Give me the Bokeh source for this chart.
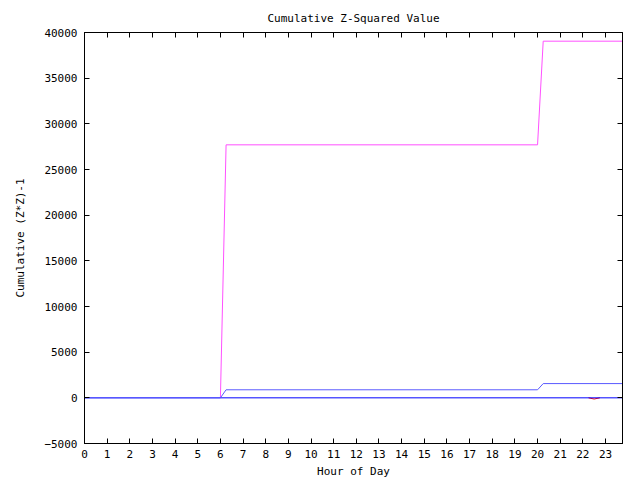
from bokeh.plotting import figure
from bokeh.models import LinearAxis, FixedTicker, Range1d
from bokeh.embed import file_html
from bokeh.resources import INLINE

# Data (hour of day, cumulative value)
magenta_hours = [6.0, 6.25, 20.0, 20.25, 23.75]
magenta_vals = [0, 27700, 27700, 39050, 39050]

lightblue_hours = [0, 6.0, 6.25, 20.0, 20.25, 23.75]
lightblue_vals = [0, 0, 880, 880, 1560, 1560]

blue_hours = [0, 23.75]
blue_vals = [0, 0]

red_hours = [22.25, 22.5, 22.75]
red_vals = [0, -130, 0]

x_ticks = list(range(24))
y_ticks = list(range(-5000, 40001, 5000))

FONT = "DejaVu Sans Mono"
FS = "11px"

p = figure(width=640, height=480, output_backend="svg", toolbar_location=None,
           x_range=Range1d(0, 23.75), y_range=Range1d(-5000, 40000),
           title="Cumulative Z-Squared Value",
           min_border_left=84, min_border_right=18, min_border_top=32, min_border_bottom=36)

p.title.align = "center"
p.title.text_font = FONT
p.title.text_font_size = FS
p.title.text_font_style = "normal"
p.title.text_color = "black"
p.title.standoff = 15

p.xgrid.visible = False
p.ygrid.visible = False
p.outline_line_color = "black"
p.outline_line_width = 1

p.line(magenta_hours, magenta_vals, color="#ff50ff", line_width=1)
p.line(red_hours, red_vals, color="#ff0000", line_width=1)
p.line(blue_hours, blue_vals, color="#0000ff", line_width=1)
p.line(lightblue_hours, lightblue_vals, color="#5a5aff", line_width=1)

def style(ax, ticks, labels=True):
    ax.ticker = FixedTicker(ticks=ticks)
    ax.major_tick_in = 5
    ax.major_tick_out = 0
    ax.minor_tick_line_color = None
    ax.axis_line_color = "black"
    ax.major_tick_line_color = "black"
    ax.major_label_text_font = FONT
    ax.major_label_text_font_size = FS
    ax.major_label_text_color = "black" if labels else None
    ax.axis_label_text_font = FONT
    ax.axis_label_text_font_size = FS
    ax.axis_label_text_font_style = "normal"
    ax.axis_label_text_color = "black"

xa = p.xaxis[0]
style(xa, x_ticks)
xa.axis_label = "Hour of Day"
xa.major_label_standoff = 6
xa.axis_label_standoff = 4

ya = p.yaxis[0]
style(ya, y_ticks)
ya.axis_label = "Cumulative (Z*Z)-1"
ya.major_label_standoff = 7
ya.axis_label_standoff = 14

top = LinearAxis()
style(top, x_ticks, labels=False)
p.add_layout(top, "above")
right = LinearAxis()
style(right, y_ticks, labels=False)
p.add_layout(right, "right")

open("out.html", "w").write(file_html(p, INLINE))
